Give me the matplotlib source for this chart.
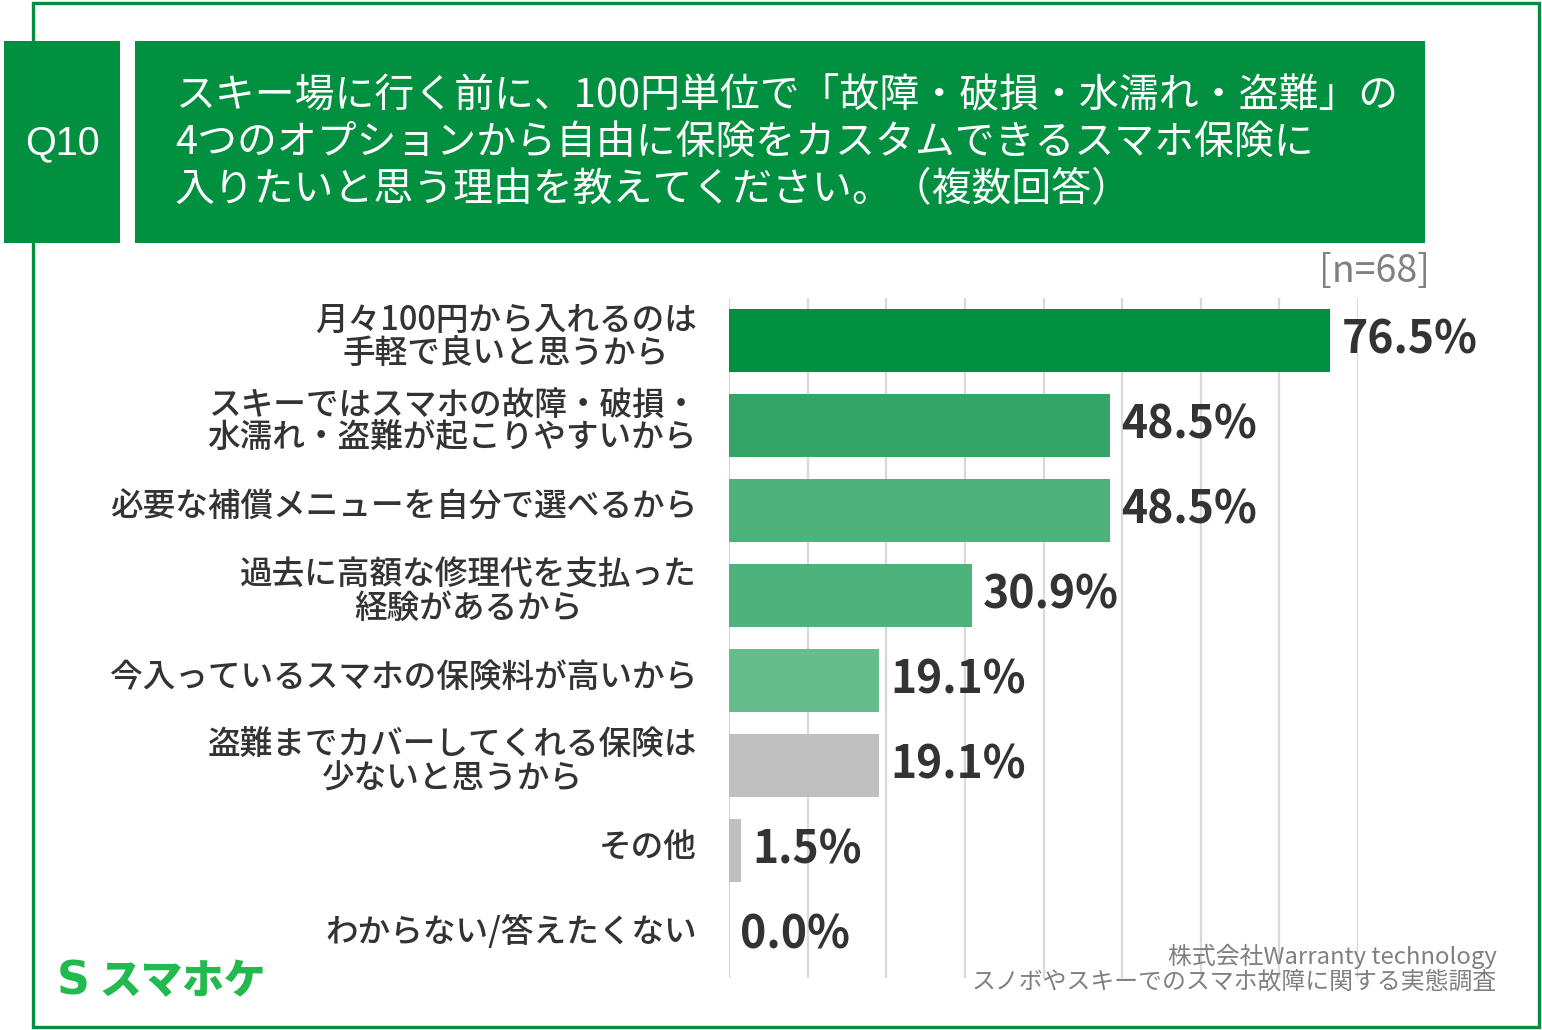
import matplotlib
matplotlib.use("Agg")
import matplotlib.pyplot as plt
from matplotlib.patches import Rectangle

plt.rcParams['font.family'] = ['Noto Sans CJK JP', 'DejaVu Sans']

# data
categories = [
    "月々100円から入れるのは\n手軽で良いと思うから",
    "スキーではスマホの故障・破損・\n水濡れ・盗難が起こりやすいから",
    "必要な補償メニューを自分で選べるから",
    "過去に高額な修理代を支払った\n経験があるから",
    "今入っているスマホの保険料が高いから",
    "盗難までカバーしてくれる保険は\n少ないと思うから",
    "その他",
    "わからない/答えたくない",
]
values = [76.5, 48.5, 48.5, 30.9, 19.1, 19.1, 1.5, 0.0]
bar_colors = ["#009040", "#34a566", "#4db27b", "#4db27b", "#66bc8c",
              "#bfbfbf", "#bfbfbf", "#bfbfbf"]
x_ticks = [0, 10, 20, 30, 40, 50, 60, 70, 80]

title = ("スキー場に行く前に、100円単位で「故障・破損・水濡れ・盗難」の\n"
         "4つのオプションから自由に保険をカスタムできるスマホ保険に\n"
         "入りたいと思う理由を教えてください。（複数回答）")
q_label = "Q10"
n_label = "[n=68]"
source = "株式会社Warranty technology\nスノボやスキーでのスマホ故障に関する実態調査"

W, H = 1542, 1030
fig = plt.figure(figsize=(W / 100, H / 100), dpi=100)
fig.patch.set_facecolor("white")

# overlay in pixel coordinates for frame and header boxes
bg = fig.add_axes([0, 0, 1, 1])
bg.set_xlim(0, W)
bg.set_ylim(H, 0)
bg.axis("off")

green = "#009040"
bg.add_patch(Rectangle((33, 3), 1506, 1024, fill=False, edgecolor=green, lw=2.4))
bg.add_patch(Rectangle((4, 41), 116, 202, facecolor=green, edgecolor="none", zorder=3))
bg.add_patch(Rectangle((135, 41), 1290, 202, facecolor=green, edgecolor="none", zorder=3))
bg.text(62, 143, q_label, color="white", fontsize=28.5, family="Liberation Sans",
        ha="center", va="center", zorder=4)
bg.text(175, 143, title, color="white", fontsize=28.7, ha="left", va="center",
        linespacing=1.2, zorder=4)

bg.text(1430, 272, n_label, color="#808080", fontsize=27, ha="right", va="center")

# logo
logo_green = "#22b94e"
bg.text(57, 982, "S", color=logo_green, fontsize=33, fontweight="bold",
        family="DejaVu Sans", ha="left", va="center")
bg.text(99, 982, "スマホケ", color=logo_green, fontsize=30, fontweight="heavy",
        ha="left", va="center")

# bar chart
ax = fig.add_axes([729 / W, 52 / H, 629 / W, 680 / H])
y = list(range(len(categories)))
ax.barh(y, values, height=0.73, color=bar_colors, zorder=2)
ax.set_ylim(len(categories) - 0.5, -0.5)
ax.set_xlim(0, 80)
ax.set_xticks(x_ticks)
ax.set_yticks([])
ax.xaxis.grid(True, color="#d9d9d9", lw=1.6, zorder=0)
ax.tick_params(axis="x", length=0, labelbottom=False)
for s in ax.spines.values():
    s.set_visible(False)
ax.axvline(0, color="#eeeeee", lw=1.6, zorder=1)

for i, (cat, v) in enumerate(zip(categories, values)):
    ax.annotate(cat, xy=(0, i), xytext=(-23, 2.5), textcoords="offset points",
                ha="right", va="center", multialignment="center", linespacing=0.93,
                fontsize=23.5, fontweight="medium", color="#333333",
                annotation_clip=False)
    ax.annotate(f"{v:.1f}%", xy=(v, i), xytext=(8, 0), textcoords="offset points",
                ha="left", va="center", fontsize=32, fontweight="semibold",
                color="#333333", annotation_clip=False)

# source note on top of the grid
fig.text(1497 / W, 1 - 969 / H, source, color="#808080", fontsize=17.2,
         ha="right", va="center", multialignment="right", linespacing=1.08)

fig.savefig("out.png", dpi=100)
